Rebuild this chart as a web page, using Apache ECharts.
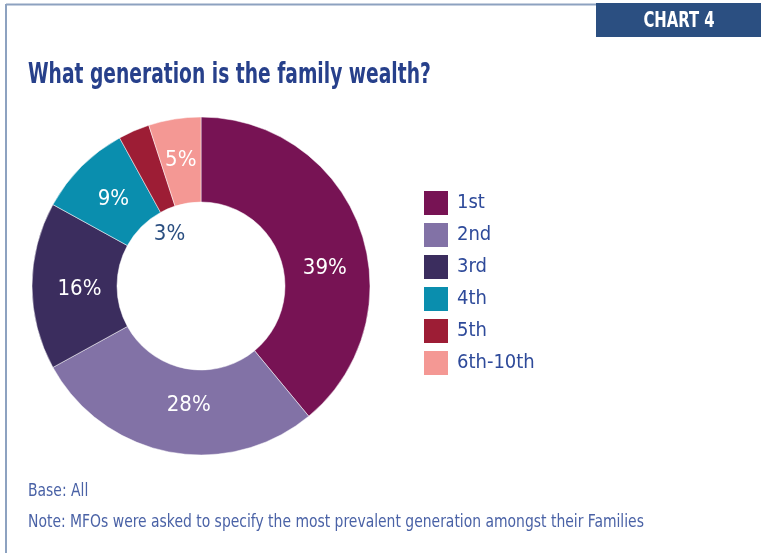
<!DOCTYPE html>
<html>
<head>
<meta charset="utf-8">
<script src="https://cdn.jsdelivr.net/npm/echarts@6/dist/echarts.min.js"></script>
<style>
  html, body { margin: 0; padding: 0; background: #fff; }
  #chart { width: 761px; height: 553px; }
</style>
</head>
<body>
<div id="chart"></div>
<script>
// data
var generations = ['1st', '2nd', '3rd', '4th', '5th', '6th-10th'];
var shares = [39, 28, 16, 9, 3, 5];
var sliceColors = ['#771354', '#8272a6', '#3b2d5e', '#0a8eae', '#9d1d35', '#f49894'];
// small nudges so labels land where the original puts them
var labelOffsets = [[2, 26], [12, -8], [8, 3], [4, 5], [20, 67], [0, 2]];

var chartTitle = 'What generation is the family wealth?';
var chartTag = 'CHART 4';
var footNotes = ['Base: All', 'Note: MFOs were asked to specify the most prevalent generation amongst their Families'];

var FONT = '"Liberation Sans Narrow", "DejaVu Sans Condensed", "Roboto", sans-serif';

var chart = echarts.init(document.getElementById('chart'));

var pieData = generations.map(function (g, i) {
  var item = {
    name: g,
    value: shares[i],
    itemStyle: { color: sliceColors[i] },
    label: { offset: labelOffsets[i] }
  };
  // 3% slice is too thin, its label goes in the hole
  if (i === 4) item.label.color = '#2b4f81';
  return item;
});

var option = {
  backgroundColor: '#fff',
  animation: false,
  legend: {
    orient: 'vertical',
    left: 422,
    top: 189,
    padding: 0,
    itemWidth: 26,
    itemHeight: 26,
    itemGap: 4,
    icon: 'rect',
    data: generations,
    textStyle: { color: '#2e4a9a', fontSize: 20, lineHeight: 24, fontFamily: FONT, padding: [0, 0, 0, 3] }
  },
  graphic: [
    // frame lines
    { type: 'line', shape: { x1: 6, y1: 4.5, x2: 597, y2: 4.5 }, style: { stroke: '#8da2c0', lineWidth: 2 } },
    { type: 'line', shape: { x1: 6, y1: 4, x2: 6, y2: 553 }, style: { stroke: '#8da2c0', lineWidth: 2 } },
    // header tag
    { type: 'rect', shape: { x: 596, y: 3, width: 165, height: 34 }, style: { fill: '#2b4f81' } },
    {
      type: 'text', x: 679, y: 21, scaleX: 0.75,
      style: { text: chartTag, fill: '#fff', font: 'bold 22px ' + FONT, textAlign: 'center', textVerticalAlign: 'middle' }
    },
    {
      type: 'text', x: 28, y: 75, scaleX: 0.716,
      style: { text: chartTitle, fill: '#27408b', font: 'bold 29px ' + FONT, textVerticalAlign: 'middle' }
    },
    {
      type: 'text', x: 28, y: 491, scaleX: 0.86,
      style: { text: footNotes[0], fill: '#4a62a6', font: '18px ' + FONT, textVerticalAlign: 'middle' }
    },
    {
      type: 'text', x: 28, y: 522, scaleX: 0.86,
      style: { text: footNotes[1], fill: '#4a62a6', font: '18px ' + FONT, textVerticalAlign: 'middle' }
    }
  ],
  series: [{
    type: 'pie',
    center: [201, 286],
    radius: [84, 169],
    startAngle: 90,
    clockwise: true,
    silent: true,
    label: {
      show: true,
      position: 'inside',
      formatter: '{c}%',
      color: '#fff',
      fontSize: 22,
      fontFamily: FONT
    },
    labelLine: { show: false },
    itemStyle: { borderColor: '#fff', borderWidth: 0.5 },
    data: pieData
  }]
};

chart.setOption(option);
</script>
</body>
</html>
